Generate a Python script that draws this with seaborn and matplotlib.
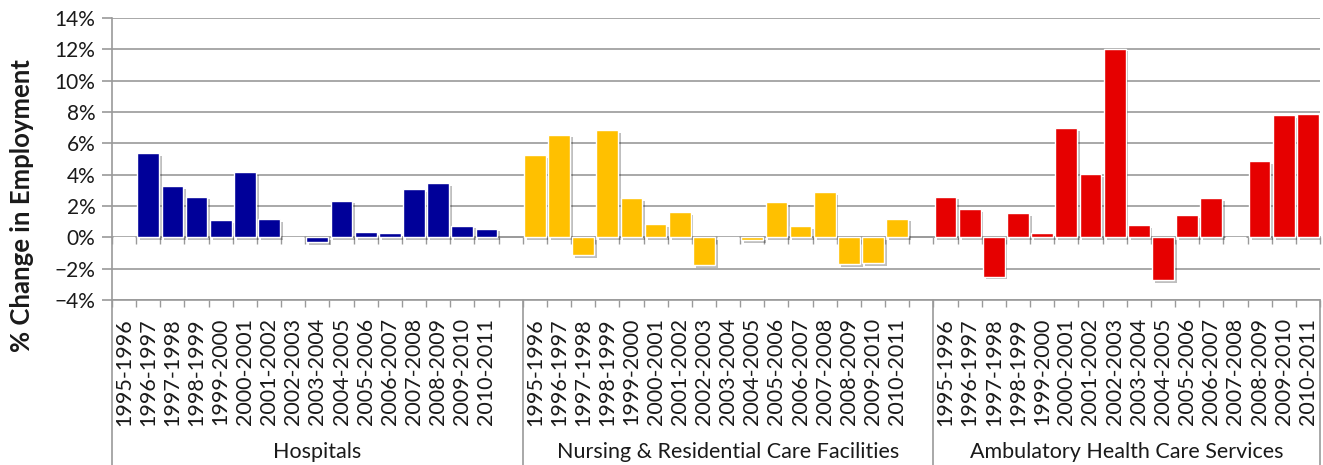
import matplotlib
matplotlib.use("Agg")
import matplotlib.pyplot as plt
import matplotlib.patheffects as pe
from matplotlib.ticker import PercentFormatter
import pandas as pd
import seaborn as sns

sns.set_theme(style="white")
plt.rcParams["font.family"] = ["Lato", "DejaVu Sans"]

years = ["1995-1996", "1996-1997", "1997-1998", "1998-1999", "1999-2000",
         "2000-2001", "2001-2002", "2002-2003", "2003-2004", "2004-2005",
         "2005-2006", "2006-2007", "2007-2008", "2008-2009", "2009-2010",
         "2010-2011"]
groups = ["Hospitals", "Nursing & Residential Care Facilities",
          "Ambulatory Health Care Services"]
hospitals = [0.0, 5.4, 3.25, 2.6, 1.1, 4.15, 1.15, 0.0,
             -0.3, 2.35, 0.35, 0.25, 3.1, 3.45, 0.75, 0.55]
nursing = [5.25, 6.55, -1.15, 6.85, 2.5, 0.85, 1.6, -1.75,
           0.0, -0.2, 2.25, 0.7, 2.9, -1.7, -1.65, 1.2]
ambulatory = [2.6, 1.8, -2.5, 1.55, 0.25, 6.95, 4.05, 12.05,
              0.8, -2.75, 1.4, 2.5, 0.0, 4.85, 7.8, 7.85]
colors = ["#000099", "#FFC000", "#E60000"]
gray = "#9a9a9a"

# one slot per bar, plus an empty slot between groups
rows, order, labels = [], [], []
for g, vals in zip(groups, [hospitals, nursing, ambulatory]):
    if order:
        order.append(f"gap{len(order)}")
        labels.append("")
    for y, v in zip(years, vals):
        key = f"{g}|{y}"
        order.append(key)
        labels.append(y)
        rows.append({"key": key, "group": g, "change": v})
df = pd.DataFrame(rows)

fig = plt.figure(figsize=(13.23, 4.65), dpi=100)
ax = fig.add_axes([112 / 1323, 1 - 300 / 465, 1208 / 1323, 282 / 465])

sns.barplot(data=df, x="key", y="change", hue="group", order=order,
            hue_order=groups, palette=colors, saturation=1, dodge=False,
            width=0.9, edgecolor="white", linewidth=1, errorbar=None,
            legend=False, ax=ax, zorder=3)
for p in ax.patches:
    p.set_path_effects([pe.SimplePatchShadow(offset=(2, -2), shadow_rgbFace="black", alpha=0.25),
                        pe.Normal()])

n = len(order)
ax.set_xlim(-0.5, n - 0.5)
ax.set_ylim(-4, 14)
ax.set_yticks(range(-4, 15, 2))
ax.yaxis.set_major_formatter(PercentFormatter(decimals=0))
ax.yaxis.grid(True, color=gray, linewidth=1.2)
ax.set_axisbelow(True)

ax.set_xticks(range(n))
ax.set_xticklabels(labels, rotation=90)
bounds = [i - 0.5 for i in range(n + 1)]
ax.set_xticks(bounds, minor=True)
ax.tick_params(axis="x", which="major", length=0, pad=13, labelsize=15.5, colors="#1a1a1a")
ax.tick_params(axis="x", which="minor", bottom=True, length=5, color=gray, width=1)
ax.tick_params(axis="y", left=True, length=7, width=1.2, color=gray, labelsize=15,
               labelcolor="#1a1a1a", pad=5)
ax.set_xlabel("")
ax.set_ylabel("")
for s in ["top", "right"]:
    ax.spines[s].set_visible(False)
for s in ["left", "bottom"]:
    ax.spines[s].set_color(gray)
    ax.spines[s].set_linewidth(1.2)

# category axis line at zero
sec = ax.secondary_xaxis(4 / 18)
sec.set_xticks(bounds)
sec.set_xticklabels([])
sec.tick_params(bottom=True, length=5, color=gray, width=1)
sec.spines["bottom"].set_color(gray)
sec.spines["bottom"].set_linewidth(1.2)

# group separators and group labels
seps = [-0.5, 16.5, 33.5, n - 0.5]
for xb in seps:
    ax.axvline(xb, ymin=-0.6, ymax=0, clip_on=False, color=gray, linewidth=1.2)
for g, a, b in zip(groups, seps[:-1], seps[1:]):
    ax.text((a + b) / 2, -0.54, g, transform=ax.get_xaxis_transform(),
            ha="center", va="center", fontsize=15.5, color="#1a1a1a")

fig.text(22 / 1323, 1 - 206 / 465, "% Change in Employment", rotation=90,
         fontweight="bold", fontsize=18.5, ha="center", va="center", color="#1a1a1a")

fig.savefig("out.png", dpi=100)
